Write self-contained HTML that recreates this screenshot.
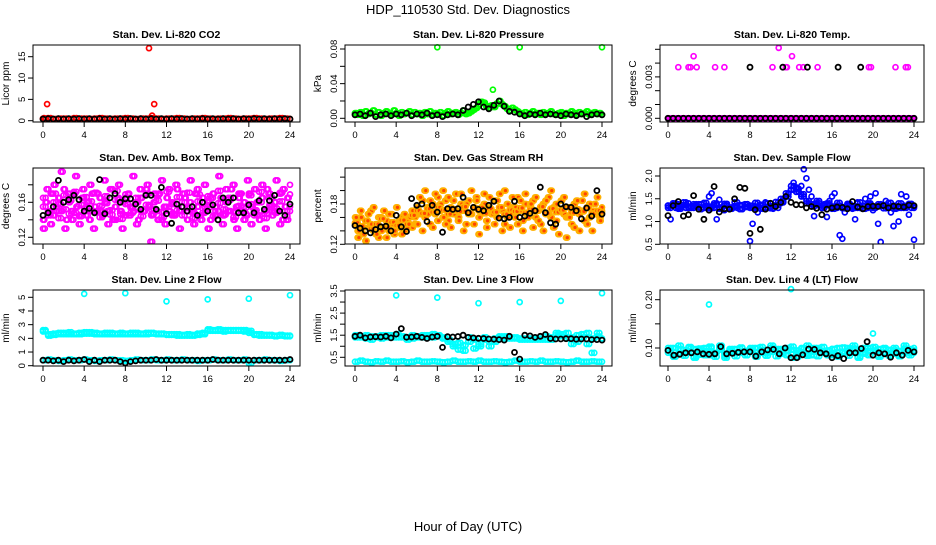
<!DOCTYPE html>
<html><head><meta charset="utf-8"><style>
html,body{margin:0;padding:0;background:#fff;}
svg text{font-family:"Liberation Sans",sans-serif;}
</style></head><body>
<svg id="chart" width="936" height="540" viewBox="0 0 936 540" xmlns="http://www.w3.org/2000/svg">
<text x="468" y="14" font-size="13" text-anchor="middle">HDP_110530  Std. Dev. Diagnostics</text>
<text x="468" y="531" font-size="13" text-anchor="middle">Hour of Day (UTC)</text>
</svg>
<script>
// ---- data ----
const hourTicks = [0,4,8,12,16,20,24];
// P1 CO2
const co2Red = [0.5,0.6,0.4,0.5,0.5,0.4,0.6,0.5,0.5,0.4,0.5,0.6,0.5,0.4,0.5,0.5,0.6,0.5,0.4,0.5,0.5,0.6,0.5,0.4,0.5,0.5,0.6,0.5,0.4,0.5,0.5,0.6,0.5,0.4,0.5,0.5,0.6,0.5,0.4,0.5,0.5,0.6,0.5,0.4,0.5,0.5,0.6,0.5,0.4];
const co2Black = [0.4,0.5,0.4,0.5,0.4,0.5,0.4,0.5,0.4,0.5,0.4,0.5,0.4,0.5,0.4,0.5,0.4,0.5,0.4,0.5,0.4,0.5,0.4,0.5,0.4,0.5,0.4,0.5,0.4,0.5,0.4,0.5,0.4,0.5,0.4,0.5,0.4,0.5,0.4,0.5,0.4,0.5,0.4,0.5,0.4,0.5,0.4,0.5,0.4];
const co2OutX = [0.1,0.4,10.3,10.8,10.6];
const co2OutY = [0.6,3.9,17.0,3.9,1.2];
// P2 Pressure
const presGreen = [0.006,0.004,0.007,0.003,0.008,0.005,0.006,0.009,0.004,0.007,0.003,0.006,0.008,0.005,0.004,0.009,0.006,0.003,0.007,0.005,0.006,0.008,0.004,0.007,0.005,0.006,0.003,0.007,0.005,0.008,0.004,0.006,0.005,0.007,0.003,0.006,0.008,0.005,0.006,0.007,0.004,0.006,0.009,0.005,0.006,0.008,0.010,0.012,0.016,0.019,0.018,0.014,0.012,0.015,0.013,0.017,0.020,0.016,0.014,0.011,0.009,0.012,0.010,0.008,0.006,0.005,0.007,0.004,0.006,0.008,0.005,0.006,0.004,0.007,0.005,0.006,0.008,0.005,0.004,0.006,0.007,0.003,0.006,0.005,0.008,0.006,0.004,0.007,0.005,0.006,0.008,0.004,0.006,0.007,0.005,0.006,0.004];
const presBlack = [0.004,0.005,0.003,0.006,0.002,0.004,0.005,0.003,0.005,0.004,0.006,0.003,0.005,0.004,0.006,0.003,0.004,0.002,0.004,0.005,0.004,0.009,0.013,0.016,0.019,0.013,0.011,0.015,0.020,0.014,0.008,0.007,0.005,0.003,0.005,0.004,0.006,0.004,0.005,0.004,0.003,0.005,0.004,0.003,0.005,0.002,0.004,0.005,0.004];
const presOutX = [8,16,24,13.4];
const presOutY = [0.082,0.082,0.082,0.033];
// P3 Temp
const tempMag = [0,0,0,0,0,0,0,0,0,0,0,0,0,0,0,0,0,0,0,0,0,0,0,0,0,0,0,0,0,0,0,0,0,0,0,0,0,0,0,0,0,0,0,0,0,0,0,0,0,0,0,0,0,0,0,0,0,0,0,0,0,0,0,0,0,0,0,0,0,0,0,0,0,0,0,0,0,0,0,0,0,0,0,0,0,0,0,0,0,0,0,0,0,0,0,0,0];
const tempBlack = [0,0,0,0,0,0,0,0,0,0,0,0,0,0,0,0,0,0,0,0,0,0,0,0,0,0,0,0,0,0,0,0,0,0,0,0,0,0,0,0,0,0,0,0,0,0,0,0,0];
const tempOutX = [1,2,2.2,2.5,2.8,4.6,5.5,10.2,10.8,11.5,11.6,12.1,12.8,13.2,14.6,19.6,19.8,22.2,23.2,23.4];
const tempOutY = [0.0037,0.0037,0.0037,0.0045,0.0037,0.0037,0.0037,0.0037,0.0051,0.0037,0.0037,0.0045,0.0037,0.0037,0.0037,0.0037,0.0037,0.0037,0.0037,0.0037];
const tempBlkOutX = [8,11.2,13.6,16.6,18.8];
const tempBlkOutY = [0.0037,0.0037,0.0037,0.0037,0.0037];
// P4 Amb box
const ambA = [0.140,0.160,0.150,0.170,0.145,0.155,0.165,0.150,0.175,0.140,0.160,0.150,0.170,0.155,0.145,0.165,0.150,0.160,0.140,0.170,0.155,0.150,0.165,0.145,0.160,0.150,0.175,0.140,0.155,0.165,0.150,0.160,0.145,0.170,0.155,0.150,0.160,0.140,0.165,0.150,0.175,0.155,0.145,0.160,0.150,0.170,0.140,0.155,0.165,0.150,0.160,0.145,0.175,0.150,0.155,0.165,0.140,0.160,0.150,0.170,0.155,0.145,0.165,0.150,0.160,0.140,0.170,0.155,0.150,0.165,0.145,0.160,0.150,0.175,0.140,0.155,0.165,0.150,0.160,0.145,0.170,0.155,0.150,0.160,0.140,0.165,0.150,0.175,0.155,0.145,0.160,0.150,0.170,0.140,0.155,0.165,0.150];
const ambB = [0.130,0.175,0.135,0.180,0.150,0.195,0.130,0.170,0.140,0.190,0.135,0.175,0.145,0.180,0.130,0.170,0.150,0.185,0.135,0.175,0.140,0.180,0.130,0.165,0.145,0.190,0.135,0.175,0.150,0.180,0.115,0.170,0.140,0.185,0.135,0.175,0.145,0.180,0.130,0.170,0.150,0.185,0.135,0.175,0.140,0.180,0.130,0.165,0.145,0.190,0.135,0.175,0.150,0.180,0.130,0.170,0.140,0.185,0.135,0.175,0.145,0.180,0.130,0.170,0.150,0.185,0.135,0.175,0.140,0.180];
const ambC = [0.155,0.150,0.160,0.158,0.152,0.162,0.148,0.157,0.153,0.161,0.149,0.156,0.159,0.151,0.163,0.147,0.158,0.154,0.160,0.150,0.157,0.152,0.162,0.149,0.155,0.158,0.151,0.160,0.154,0.148,0.161,0.153,0.157,0.150,0.159,0.152,0.163,0.149,0.156,0.154,0.158,0.151,0.160,0.147,0.157,0.153,0.161,0.150,0.155];
const ambD = [0.165,0.145,0.170,0.142,0.168,0.147,0.172,0.144,0.166,0.150,0.171,0.143,0.167,0.146,0.173,0.141,0.169,0.148,0.165,0.144,0.170,0.146,0.168,0.143,0.172,0.147,0.166,0.145,0.171,0.142,0.169,0.148,0.167,0.144,0.173,0.146,0.165,0.143,0.170,0.147,0.168,0.145,0.172,0.142,0.166,0.148,0.171,0.144,0.169];
const ambBlack = [0.145,0.148,0.155,0.185,0.160,0.163,0.168,0.163,0.150,0.153,0.148,0.186,0.147,0.165,0.170,0.160,0.164,0.164,0.158,0.152,0.168,0.168,0.152,0.177,0.147,0.136,0.158,0.155,0.150,0.155,0.145,0.160,0.150,0.157,0.140,0.165,0.160,0.165,0.148,0.148,0.157,0.148,0.162,0.152,0.162,0.168,0.150,0.145,0.158];
// P5 RH
const rhA = [0.150,0.140,0.160,0.135,0.155,0.145,0.170,0.140,0.150,0.130,0.160,0.145,0.155,0.140,0.165,0.135,0.150,0.145,0.160,0.140,0.155,0.150,0.145,0.160,0.175,0.165,0.185,0.160,0.175,0.150,0.180,0.165,0.190,0.170,0.160,0.185,0.155,0.175,0.165,0.195,0.160,0.180,0.170,0.150,0.185,0.165,0.175,0.190,0.160,0.170,0.180,0.155,0.175,0.165,0.185,0.160,0.195,0.170,0.150,0.180,0.165,0.175,0.160,0.190,0.170,0.155,0.180,0.165,0.175,0.185,0.160,0.170,0.150,0.180,0.165,0.190,0.160,0.175,0.155,0.170,0.185,0.165,0.160,0.175,0.150,0.180,0.170,0.165,0.185,0.155,0.175,0.160,0.170,0.180,0.165,0.160,0.170];
const rhB = [0.160,0.130,0.170,0.145,0.125,0.165,0.150,0.175,0.135,0.160,0.140,0.170,0.130,0.165,0.150,0.140,0.175,0.155,0.135,0.165,0.145,0.160,0.170,0.150,0.150,0.190,0.140,0.200,0.165,0.185,0.145,0.195,0.155,0.180,0.200,0.150,0.190,0.145,0.185,0.170,0.155,0.195,0.140,0.180,0.165,0.200,0.150,0.185,0.135,0.175,0.195,0.145,0.190,0.165,0.150,0.185,0.175,0.140,0.200,0.160,0.145,0.190,0.175,0.150,0.185,0.140,0.195,0.160,0.180,0.145,0.190,0.155,0.175,0.140,0.185,0.165,0.200,0.145,0.180,0.135,0.170,0.190,0.130,0.160,0.175,0.145,0.185,0.140,0.170,0.195,0.150,0.180,0.140,0.165,0.190,0.155,0.175];
const rhC = [0.152,0.147,0.155,0.143,0.150,0.158,0.145,0.153,0.148,0.156,0.150,0.163,0.170,0.166,0.173,0.168,0.175,0.171,0.165,0.172,0.169,0.176,0.167,0.174,0.170,0.166,0.173,0.168,0.175,0.165,0.171,0.169,0.174,0.167,0.172,0.170,0.176,0.166,0.173,0.168,0.171,0.175,0.167,0.172,0.169,0.174,0.166,0.170,0.168];
const rhBlack = [0.148,0.144,0.140,0.137,0.142,0.146,0.147,0.140,0.163,0.146,0.139,0.188,0.178,0.180,0.154,0.178,0.168,0.138,0.173,0.172,0.173,0.190,0.167,0.175,0.172,0.170,0.178,0.184,0.159,0.158,0.160,0.184,0.160,0.162,0.166,0.170,0.205,0.167,0.152,0.150,0.180,0.176,0.175,0.170,0.158,0.174,0.162,0.200,0.165];
// P6 Sample flow
const flowBlue = [1.35,1.05,1.40,1.30,1.38,1.32,1.36,1.30,1.40,1.34,1.30,1.36,1.32,1.38,1.30,1.35,1.55,1.62,1.30,1.05,1.48,1.30,1.25,1.35,1.30,1.28,1.34,1.30,1.36,1.28,1.32,1.38,0.57,0.95,1.30,1.20,1.35,1.30,1.42,1.30,1.34,1.28,1.35,1.30,1.40,1.45,1.55,1.60,1.70,1.85,1.75,1.65,1.78,2.15,1.95,1.70,1.55,1.12,1.40,1.35,1.30,1.38,1.10,1.45,1.55,1.62,1.30,0.70,0.62,1.20,1.35,1.30,1.28,1.05,1.40,1.30,1.35,1.50,1.30,1.55,1.25,1.62,0.95,0.55,1.35,1.45,1.30,1.20,0.90,1.30,1.00,1.60,1.35,1.55,1.15,1.30,0.60];
const flowBand = [1.35,1.37,1.33,1.36,1.32,1.34,1.38,1.30,1.33,1.36,1.31,1.35,1.30,1.34,1.36,1.32,1.35,1.33,1.37,1.30,1.34,1.36,1.42,1.55,1.70,1.65,1.60,1.45,1.38,1.40,1.35,1.36,1.33,1.35,1.32,1.36,1.34,1.30,1.35,1.37,1.32,1.34,1.36,1.33,1.35,1.30,1.34,1.36,1.33];
const flowBand2 = [1.30,1.40,1.28,1.42,1.30,1.38,1.27,1.41,1.29,1.40,1.28,1.39,1.31,1.42,1.27,1.38,1.30,1.41,1.28,1.40,1.29,1.43,1.50,1.62,1.78,1.72,1.55,1.40,1.33,1.45,1.30,1.40,1.28,1.41,1.29,1.39,1.30,1.42,1.28,1.40,1.30,1.38,1.29,1.41,1.28,1.40,1.30,1.39,1.30];
const flowBlack = [1.13,1.35,1.44,1.12,1.15,1.57,1.27,1.05,1.25,1.77,1.21,1.28,1.27,1.50,1.75,1.73,0.74,1.26,0.83,1.27,1.40,1.33,1.42,1.55,1.42,1.37,1.37,1.30,1.33,1.29,1.15,1.27,1.30,1.32,1.31,1.28,1.44,1.32,1.28,1.33,1.34,1.33,1.35,1.30,1.34,1.33,1.32,1.36,1.35];
// P7 Line 2
const l2High = [2.6,2.2,2.35,2.3,2.4,2.3,2.35,2.4,2.45,2.35,2.3,2.35,2.3,2.4,2.35,2.3,2.35,2.4,2.3,2.35,2.4,2.35,2.3,2.35,2.3,2.25,2.2,2.25,2.2,2.2,2.25,2.3,2.55,2.6,2.55,2.6,2.55,2.6,2.55,2.5,2.55,2.3,2.2,2.25,2.2,2.15,2.2,2.15,2.2];
const l2High2 = [2.5,2.3,2.25,2.4,2.3,2.45,2.3,2.3,2.35,2.45,2.4,2.3,2.4,2.3,2.3,2.4,2.3,2.3,2.4,2.3,2.3,2.4,2.35,2.3,2.25,2.3,2.3,2.2,2.3,2.25,2.35,2.4,2.65,2.55,2.65,2.5,2.6,2.55,2.6,2.6,2.4,2.25,2.3,2.2,2.25,2.2,2.25,2.2,2.15];
const l2Low = [0.4,0.45,0.4,0.35,0.4,0.45,0.4,0.4,0.45,0.4,0.35,0.4,0.4,0.45,0.4,0.4,0.35,0.4,0.45,0.4,0.4,0.45,0.4,0.4,0.45,0.4,0.4,0.45,0.4,0.4,0.35,0.4,0.4,0.45,0.4,0.4,0.45,0.4,0.4,0.45,0.2,0.4,0.4,0.45,0.4,0.4,0.35,0.4,0.4];
const l2Black = [0.4,0.4,0.35,0.4,0.3,0.4,0.35,0.4,0.45,0.3,0.4,0.3,0.4,0.4,0.4,0.3,0.2,0.3,0.35,0.4,0.4,0.4,0.45,0.4,0.4,0.4,0.4,0.4,0.4,0.4,0.4,0.4,0.4,0.45,0.4,0.4,0.4,0.4,0.4,0.4,0.4,0.4,0.4,0.4,0.4,0.4,0.4,0.4,0.45];
const l2OutX = [4,8,12,16,20,24];
const l2OutY = [5.25,5.3,4.7,4.85,4.9,5.15];
// P8 Line 3
const l3High = [1.5,1.4,1.5,1.3,1.45,1.5,1.4,1.5,1.55,1.4,1.3,1.5,1.45,1.4,1.5,1.55,1.45,1.35,1.3,1.1,0.85,1.05,1.4,0.9,1.1,1.3,1.0,1.2,1.45,1.35,1.4,1.35,1.3,1.3,1.35,1.3,1.3,1.3,1.4,1.6,1.55,1.6,1.1,1.2,1.55,1.1,0.7,1.6,1.3];
const l3High2 = [1.4,1.45,1.35,1.45,1.4,1.35,1.5,1.4,1.4,1.45,1.4,1.35,1.4,1.5,1.4,1.4,1.5,1.4,1.2,1.0,1.15,0.8,1.2,1.3,1.0,1.4,1.2,1.35,1.4,1.45,1.35,1.4,1.35,1.35,1.3,1.35,1.35,1.45,1.3,1.5,1.45,1.35,1.4,1.5,1.4,1.6,1.35,1.45,1.35];
const l3Low = [0.3,0.35,0.3,0.28,0.32,0.3,0.35,0.3,0.3,0.32,0.28,0.3,0.35,0.3,0.3,0.32,0.3,0.28,0.3,0.35,0.3,0.3,0.32,0.3,0.35,0.3,0.3,0.32,0.3,0.28,0.3,0.35,0.3,0.3,0.32,0.3,0.35,0.3,0.3,0.32,0.3,0.28,0.3,0.35,0.3,0.3,0.32,0.3,0.3];
const l3Black = [1.45,1.5,1.38,1.42,1.43,1.42,1.45,1.38,1.55,1.8,1.41,1.42,1.45,1.4,1.35,1.42,1.45,0.95,1.43,1.42,1.44,1.5,1.4,1.38,1.36,1.35,1.33,1.32,1.3,1.28,1.45,0.72,0.42,1.5,1.47,1.4,1.45,1.53,1.35,1.33,1.33,1.34,1.34,1.32,1.33,1.33,1.3,1.3,1.28];
const l3OutX = [4,8,12,16,20,24];
const l3OutY = [3.3,3.2,2.95,3.0,3.05,3.4];
// P9 Line 4
const l4Cyan = [0.095,0.085,0.105,0.09,0.1,0.08,0.095,0.1,0.085,0.09,0.105,0.08,0.095,0.09,0.1,0.085,0.095,0.1,0.09,0.085,0.105,0.095,0.09,0.1,0.08,0.095,0.09,0.105,0.085,0.1,0.09,0.095,0.085,0.1,0.09,0.095,0.105,0.08,0.09,0.1,0.095,0.085,0.1,0.09,0.095,0.085,0.105,0.09,0.095];
const l4Cyan2 = [0.09,0.1,0.088,0.096,0.092,0.098,0.086,0.094,0.1,0.09,0.096,0.088,0.092,0.098,0.09,0.094,0.1,0.086,0.096,0.09,0.092,0.098,0.088,0.094,0.096,0.09,0.1,0.088,0.092,0.096,0.09,0.094,0.098,0.086,0.092,0.1,0.09,0.096,0.088,0.094,0.092,0.098,0.09,0.096,0.088,0.094,0.092,0.098,0.09];
const l4Cyan3 = [0.1,0.082,0.098,0.084,0.102,0.083,0.099,0.085,0.103,0.082,0.1,0.084,0.098,0.083,0.101,0.085,0.099,0.082,0.102,0.084,0.1,0.083,0.098,0.085,0.103,0.082,0.099,0.084,0.1,0.083,0.102,0.085,0.098,0.082,0.101,0.084,0.099,0.083,0.1,0.085,0.102,0.082,0.098,0.084,0.1,0.083,0.099,0.085,0.1];
const l4Black = [0.095,0.085,0.087,0.09,0.09,0.092,0.088,0.087,0.088,0.103,0.088,0.089,0.091,0.092,0.092,0.083,0.092,0.096,0.097,0.088,0.1,0.08,0.08,0.086,0.098,0.097,0.09,0.088,0.08,0.084,0.078,0.09,0.09,0.099,0.113,0.085,0.09,0.088,0.081,0.09,0.085,0.095,0.092];
const l4OutX = [4,12,20];
const l4OutY = [0.19,0.222,0.13];

// ---- panels ----
const cols = [{l:33,r:300,x0:43,x1:290},{l:345,r:612,x0:355,x1:602},{l:660,r:924,x0:668,x1:914}];
const rows = [{t:45,b:122},{t:168,b:244},{t:290,b:366}];
const MAG="#ff00ff", CY="#00ffff";
const panels = [
 {name:'co2',title:'Stan. Dev. Li-820 CO2',ylab:'Licor ppm',c:0,r:0,v0:0,p0:120.7,v1:15,p1:56.7,ticks:[0,5,10,15],labels:['0','5','10','15'],
  series:[{y:co2Red,col:'#ff0000',dense:1},{x:co2OutX,y:co2OutY,col:'#ff0000'},{y:co2Black,col:'#000'}]},
 {name:'pressure',title:'Stan. Dev. Li-820 Pressure',ylab:'kPa',c:1,r:0,v0:0,p0:118.3,v1:0.08,p1:49,ticks:[0,0.02,0.04,0.06,0.08],labels:['0.00','','0.04','','0.08'],
  series:[{y:presGreen,col:'#00ff00',dense:1},{x:presOutX,y:presOutY,col:'#00ff00'},{y:presBlack,col:'#000'}]},
 {name:'temp',title:'Stan. Dev. Li-820 Temp.',ylab:'degrees C',c:2,r:0,v0:0,p0:118.3,v1:0.005,p1:49.3,ticks:[0,0.001,0.002,0.003,0.004,0.005],labels:['0.000','','','0.003','',''],
  series:[{y:tempMag,col:MAG,dense:1},{x:tempOutX,y:tempOutY,col:MAG},{y:tempBlack,col:'#000'},{x:tempBlkOutX,y:tempBlkOutY,col:'#000'}]},
 {name:'amb-box',title:'Stan. Dev. Amb. Box Temp.',ylab:'degrees C',c:0,r:1,v0:0.12,p0:237.3,v1:0.16,p1:202.3,ticks:[0.12,0.14,0.16,0.18],labels:['0.12','','0.16',''],
  series:[{y:ambA,col:MAG,dense:1},{y:ambB,col:MAG,dense:1},{y:ambC,col:MAG,dense:1},{y:ambD,col:MAG,dense:1},{y:ambBlack,col:'#000'}]},
 {name:'rh',title:'Stan. Dev. Gas Stream RH',ylab:'percent',c:1,r:1,v0:0.12,p0:244.3,v1:0.18,p1:204,ticks:[0.12,0.14,0.16,0.18,0.2,0.22],labels:['0.12','','','0.18','',''],
  series:[{y:rhA,col:'#ffb000',fill:'#ff4400',dense:1},{y:rhB,col:'#ffb000',fill:'#ff4400',dense:1},{y:rhC,col:'#ffb000',fill:'#ff4400',dense:1},{y:rhBlack,col:'#000'}]},
 {name:'sample-flow',title:'Stan. Dev. Sample Flow',ylab:'ml/min',c:2,r:1,v0:0.5,p0:244.3,v1:2.0,p1:176,ticks:[0.5,1,1.5,2],labels:['0.5','1.0','1.5','2.0'],
  series:[{y:flowBlue,col:'#0000ff'},{y:flowBand,col:'#0000ff',dense:1},{y:flowBand2,col:'#0000ff',dense:1},{y:flowBlack,col:'#000'}]},
 {name:'line2',title:'Stan. Dev. Line 2 Flow',ylab:'ml/min',c:0,r:2,v0:0,p0:365.7,v1:5,p1:297.3,ticks:[0,1,2,3,4,5],labels:['0','1','2','3','4','5'],
  series:[{y:l2High,col:CY,dense:1},{y:l2High2,col:CY,dense:1},{y:l2Low,col:CY,dense:1},{x:l2OutX,y:l2OutY,col:CY},{y:l2Black,col:'#000'}]},
 {name:'line3',title:'Stan. Dev. Line 3 Flow',ylab:'ml/min',c:1,r:2,v0:0.5,p0:357.3,v1:3.5,p1:291,ticks:[0.5,1,1.5,2,2.5,3,3.5],labels:['0.5','','1.5','','2.5','','3.5'],
  series:[{y:l3High,col:CY,dense:1},{y:l3High2,col:CY,dense:1},{y:l3Low,col:CY,dense:1},{x:l3OutX,y:l3OutY,col:CY},{y:l3Black,col:'#000'}]},
 {name:'line4',title:'Stan. Dev. Line 4 (LT) Flow',ylab:'ml/min',c:2,r:2,v0:0.1,p0:348,v1:0.2,p1:299.7,ticks:[0.1,0.15,0.2],labels:['0.10','','0.20'],
  series:[{y:l4Cyan,col:CY,dense:1},{y:l4Cyan2,col:CY,dense:1},{y:l4Cyan3,col:CY,dense:1},{x:l4OutX,y:l4OutY,col:CY},{y:l4Black,col:'#000'}]}
];
const svg = document.getElementById('chart');
const NS = 'http://www.w3.org/2000/svg';
function mk(tag, attrs, parent){const e=document.createElementNS(NS,tag);for(const k in attrs)e.setAttribute(k,attrs[k]);(parent||svg).appendChild(e);return e;}
panels.forEach(p=>{
  const C=cols[p.c], R=rows[p.r];
  const xs = h => C.x0 + (C.x1-C.x0)*h/24;
  const ys = v => p.p0 + (p.p1-p.p0)*(v-p.v0)/(p.v1-p.v0);
  const g = mk('g',{});
  
  
  const clip = mk('clipPath',{id:'clip-'+p.name},g);
  mk('rect',{x:C.l,y:R.t-8,width:C.r-C.l+8,height:R.b-R.t+8},clip);
  const pts = mk('g',{'clip-path':'url(#clip-'+p.name+')'},g);
  
  
  p.series.forEach(s=>{
    const n=s.y.length;
    const step = 24/(n-1);
    s.y.forEach((v,i)=>{
      const h = s.x ? s.x[i] : i*step;
      const hs = (s.dense && !s.x && i<n-1) ? [h, h+step/2] : [h];
      hs.forEach(hh=>{
        const c = mk('circle',{cx:xs(hh).toFixed(1),cy:ys(v).toFixed(1),r:2.5,fill:s.fill||'none',stroke:s.col,'stroke-width':s.col==='#000'?1.8:1.7},pts);
        
        
      });
    });
  });
  const box = mk('rect',{x:C.l,y:R.t,width:C.r-C.l,height:R.b-R.t,fill:'none',stroke:'#000','stroke-width':1},g);
  
  
  const t = mk('text',{x:(C.l+C.r)/2,y:R.t-7,'font-size':10.5,'font-weight':'bold','text-anchor':'middle'},g);
  t.textContent = p.title;
  
  
  const yl = mk('text',{transform:`translate(${C.l-24},${(R.t+R.b)/2}) rotate(-90)`,'font-size':10,'text-anchor':'middle'},g);
  yl.textContent = p.ylab;
  
  
  mk('line',{x1:C.x0,x2:C.x1,y1:R.b,y2:R.b,stroke:'#000'},g);
  hourTicks.forEach(h=>{
    mk('line',{x1:xs(h),x2:xs(h),y1:R.b,y2:R.b+5,stroke:'#000'},g);
    const tl = mk('text',{x:xs(h),y:R.b+16,'font-size':9.5,'text-anchor':'middle'},g);
    tl.textContent = h;
    
    
  });
  const yt=p.ticks;
  mk('line',{x1:C.l,x2:C.l,y1:ys(yt[0]),y2:ys(yt[yt.length-1]),stroke:'#000'},g);
  yt.forEach((v,i)=>{
    mk('line',{x1:C.l-5,x2:C.l,y1:ys(v),y2:ys(v),stroke:'#000'},g);
    if(p.labels[i]){
      const tl = mk('text',{transform:`translate(${C.l-8},${ys(v)}) rotate(-90)`,'font-size':9.5,'text-anchor':'middle'},g);
      tl.textContent = p.labels[i];
      
      
    }
  });
});
</script>
</body></html>
